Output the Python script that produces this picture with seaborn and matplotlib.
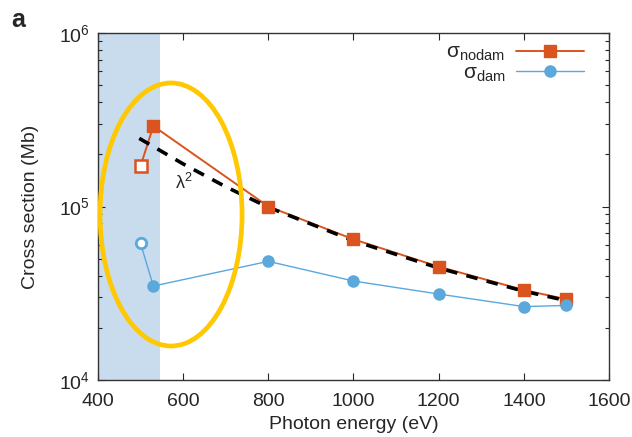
import matplotlib
matplotlib.use("Agg")
import matplotlib.pyplot as plt
import seaborn as sns
import pandas as pd
from matplotlib.patches import Ellipse
from matplotlib.lines import Line2D

# ---- data ----
energy = [500, 530, 800, 1000, 1200, 1400, 1500]
sigma_nodam = [1.71e5, 2.91e5, 1.00e5, 6.47e4, 4.50e4, 3.30e4, 2.92e4]
sigma_dam = [6.14e4, 3.48e4, 4.83e4, 3.72e4, 3.13e4, 2.65e4, 2.69e4]
open_flags = [True, False, False, False, False, False, False]

lam_energy = [497, 600, 700, 800, 1000, 1200, 1400, 1500]
lam_sigma = [2.47e5, 1.76e5, 1.30e5, 0.99e5, 6.35e4, 4.42e4, 3.25e4, 2.87e4]

xticks = [400, 600, 800, 1000, 1200, 1400, 1600]
shade_range = [400, 545]

c_nodam = "#D9541E"
c_dam = "#5AA8DC"
c_shade = "#C8DCEE"
c_ellipse = "#FFC800"

sns.set_style("ticks")
plt.rcParams["font.family"] = ["Liberation Sans", "DejaVu Sans"]
plt.rcParams["mathtext.fontset"] = "custom"
plt.rcParams["mathtext.rm"] = "Liberation Sans"
plt.rcParams["mathtext.it"] = "Liberation Sans:italic"

df = pd.DataFrame({"energy": energy, "nodam": sigma_nodam, "dam": sigma_dam, "open": open_flags})
lam = pd.DataFrame({"energy": lam_energy, "sigma": lam_sigma})

fig = plt.figure(figsize=(6.32, 4.37), dpi=100)
ax = fig.add_axes([0.155, 0.1304, 0.8086, 0.7941])

ax.axvspan(shade_range[0], shade_range[1], color=c_shade, lw=0, zorder=0)

sns.lineplot(data=df, x="energy", y="nodam", color=c_nodam, lw=1.4, ax=ax, zorder=3, sort=False)
sns.lineplot(data=df, x="energy", y="dam", color=c_dam, lw=1.0, ax=ax, zorder=3, sort=False)
sns.lineplot(data=lam, x="energy", y="sigma", color="black", lw=2.6, ax=ax, zorder=4,
             linestyle=(0, (3.2, 2.6)))

filled = df[~df["open"]]
opn = df[df["open"]]
ax.plot(filled["energy"], filled["nodam"], ls="none", marker="s", ms=8, color=c_nodam, mec=c_nodam, zorder=5)
ax.plot(filled["energy"], filled["dam"], ls="none", marker="o", ms=8, color=c_dam, mec=c_dam, zorder=5)
ax.plot(opn["energy"], opn["nodam"], ls="none", marker="s", ms=8, mfc="white", mec=c_nodam, mew=1.8, zorder=5)
ax.plot(opn["energy"], opn["dam"], ls="none", marker="o", ms=7.5, mfc="white", mec=c_dam, mew=2.0, zorder=5)

ax.set_yscale("log")
ax.set_ylim(1e4, 1e6)
ax.set_xlim(400, 1600)
ax.set_xticks(xticks)
ax.set_xlabel("Photon energy (eV)", fontsize=14, labelpad=5)
ax.set_ylabel("Cross section (Mb)", fontsize=14, labelpad=14)
ax.tick_params(which="both", direction="in", top=True, right=True, labelsize=14, width=0.8)
ax.tick_params(axis="x", which="major", pad=9)
ax.tick_params(axis="y", which="major", pad=6)
ax.tick_params(which="major", length=5)
ax.tick_params(which="minor", length=3)
for s in ax.spines.values():
    s.set_linewidth(1.0)
    s.set_color("#333333")

ell = Ellipse((0.143, 0.477), 0.278, 0.758, transform=ax.transAxes, fill=False,
              ec=c_ellipse, lw=3.4, zorder=6)
ax.add_patch(ell)

ax.text(602, 1.36e5, "λ$^2$", fontsize=13, ha="center", va="center")

handles = [Line2D([], [], color=c_nodam, lw=1.4, marker="s", ms=8),
           Line2D([], [], color=c_dam, lw=1.0, marker="o", ms=8)]
leg = ax.legend(handles, ["σ$_{\\mathrm{nodam}}$", "σ$_{\\mathrm{dam}}$"],
                loc="upper right", frameon=False, markerfirst=False, fontsize=15,
                handlelength=3.3, handletextpad=0.5, labelspacing=0.0,
                borderaxespad=0.0, bbox_to_anchor=(0.968, 0.995))

fig.text(0.018, 0.955, "a", fontsize=18, fontweight="bold", va="center")

fig.savefig("out.png", dpi=100)
